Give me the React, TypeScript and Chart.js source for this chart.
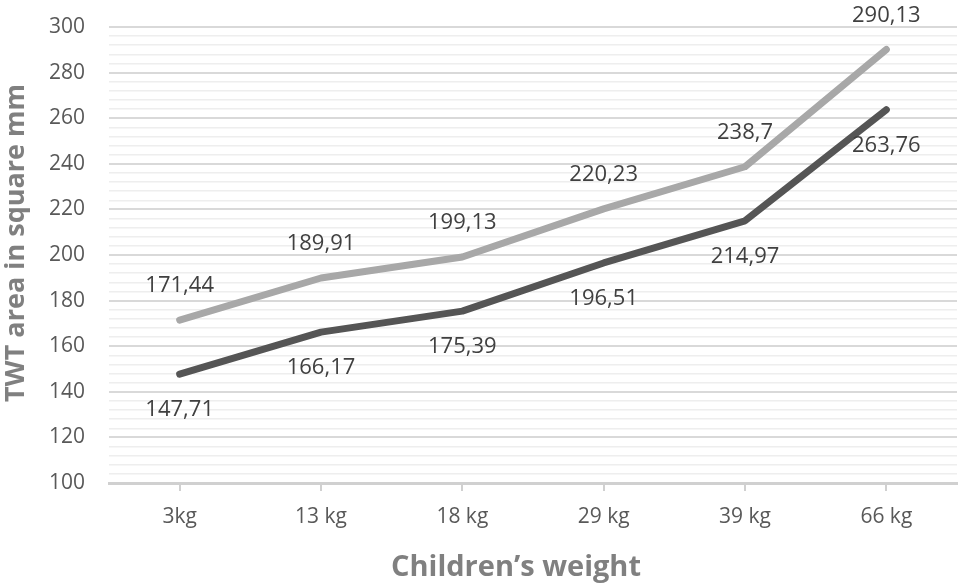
import { useEffect, useRef } from 'react';
import { Chart, registerables } from 'chart.js';

Chart.register(...registerables);

const weights = ['3kg', '13 kg', '18 kg', '29 kg', '39 kg', '66 kg'];
const upperSeries = [171.44, 189.91, 199.13, 220.23, 238.7, 290.13];
const lowerSeries = [147.71, 166.17, 175.39, 196.51, 214.97, 263.76];
const yMin = 100;
const yMax = 300;
const yLabelStep = 20;
const yMinorStep = 4;

const yTitle = 'TWT area in square mm';
const xTitle = 'Children\u2019s weight';

const FONT = '"Open Sans", sans-serif';

// labels above the light line, below the dark one
const labelOffsets = [-34, 36];

const valueLabels = {
  id: 'valueLabels',
  afterDatasetsDraw(chart: Chart) {
    const { ctx } = chart;
    ctx.save();
    ctx.font = `22px ${FONT}`;
    ctx.fillStyle = '#404040';
    ctx.textAlign = 'center';
    ctx.textBaseline = 'middle';
    chart.data.datasets.forEach((ds, i) => {
      const meta = chart.getDatasetMeta(i);
      meta.data.forEach((pt, j) => {
        const v = ds.data[j] as number;
        ctx.fillText(String(v).replace('.', ','), pt.x, pt.y + labelOffsets[i]);
      });
    });
    ctx.restore();
  },
};

const axisTitles = {
  id: 'axisTitles',
  afterDraw(chart: Chart) {
    const { ctx, chartArea } = chart;
    ctx.save();
    ctx.fillStyle = '#808080';
    ctx.textAlign = 'center';
    ctx.textBaseline = 'middle';
    ctx.font = `bold 29px ${FONT}`;
    ctx.fillText(xTitle, (chartArea.left + chartArea.right) / 2 - 17, 568);
    ctx.font = `bold 27px ${FONT}`;
    ctx.translate(16, (chartArea.top + chartArea.bottom) / 2 - 12);
    ctx.rotate(-Math.PI / 2);
    ctx.fillText(yTitle, 0, 0);
    ctx.restore();
  },
};

export default function App() {
  const canvasRef = useRef<HTMLCanvasElement>(null);
  const chartRef = useRef<Chart | null>(null);

  useEffect(() => {
    document.body.style.margin = '0';
    if (!canvasRef.current) return;
    if (chartRef.current) chartRef.current.destroy();

    chartRef.current = new Chart(canvasRef.current, {
      type: 'line',
      data: {
        labels: weights,
        datasets: [
          {
            data: upperSeries,
            borderColor: '#a8a8a8',
            borderWidth: 7,
            borderCapStyle: 'round',
            borderJoinStyle: 'round',
            pointRadius: 0,
            tension: 0,
          },
          {
            data: lowerSeries,
            borderColor: '#555555',
            borderWidth: 7,
            borderCapStyle: 'round',
            borderJoinStyle: 'round',
            pointRadius: 0,
            tension: 0,
          },
        ],
      },
      options: {
        responsive: false,
        animation: false,
        layout: { padding: { top: 27, right: 3, left: 0, bottom: 0 } },
        plugins: {
          legend: { display: false },
          tooltip: { enabled: false },
        },
        scales: {
          x: {
            offset: true,
            afterFit(scale) {
              scale.height = 105;
            },
            grid: {
              drawOnChartArea: false,
              drawTicks: true,
              tickLength: 8,
              color: '#d0d0d0',
              lineWidth: 2,
            },
            border: { color: '#d0d0d0', width: 3 },
            ticks: {
              color: '#595959',
              font: { family: FONT, size: 21 },
              padding: 13,
              maxRotation: 0,
            },
          },
          y: {
            min: yMin,
            max: yMax,
            afterFit(scale) {
              // fixed axis box; the tick padding should not push the plot top down
              scale.width = 109;
              scale.paddingTop = 0;
              scale.paddingBottom = 0;
            },
            border: { display: false },
            grid: {
              drawTicks: false,
              color: (c) => ((c.tick?.value ?? 0) % yLabelStep === 0 ? '#d9d9d9' : '#eeeeee'),
              lineWidth: (c) => ((c.tick?.value ?? 0) % yLabelStep === 0 ? 2 : 1.5),
            },
            ticks: {
              stepSize: yMinorStep,
              autoSkip: false,
              padding: 24,
              color: '#595959',
              font: { family: FONT, size: 21 },
              callback: (v) => (Number(v) % yLabelStep === 0 ? String(v) : ''),
            },
          },
        },
      },
      plugins: [valueLabels, axisTitles],
    });

    return () => {
      chartRef.current?.destroy();
      chartRef.current = null;
    };
  }, []);

  return (
    <div style={{ width: 960, height: 588, background: '#fff' }}>
      <canvas ref={canvasRef} width={960} height={588}></canvas>
    </div>
  );
}
